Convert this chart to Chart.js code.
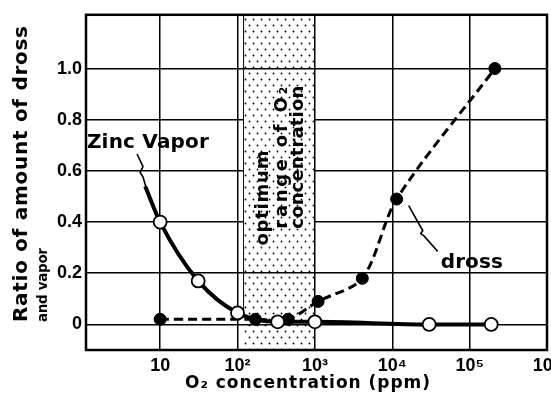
<!DOCTYPE html>
<html>
<head>
<meta charset="utf-8">
<script src="https://cdn.jsdelivr.net/npm/chart.js@4.4.1/dist/chart.umd.min.js"></script>
<style>
  html, body { margin: 0; padding: 0; background: #fff; overflow: hidden; }
  #wrap { position: relative; width: 590px; height: 404px; }
</style>
</head>
<body>
<div id="wrap"><canvas id="chart"></canvas></div>
<script>
// 軸刻度
const xTicks = [10, 1e2, 1e3, 1e4, 1e5, 1e6];
const xTickLabels = ['10', '10²', '10³', '10⁴', '10⁵', '10⁶'];
const yTicks = [0, 0.2, 0.4, 0.6, 0.8, 1.0];
const yTickLabels = ['0', '0.2', '0.4', '0.6', '0.8', '1.0'];

// Zinc vapor (open circles); the first point only starts the curve
const zincConc = [6.4, 10, 31, 100, 330, 1000, 30000, 190000];
const zincRatio = [0.54, 0.40, 0.17, 0.045, 0.01, 0.01, 0.0, 0.0];

// dross (filled circles)
const drossConc = [10, 170, 450, 1100, 4100, 11400, 212000];
const drossRatio = [0.02, 0.02, 0.02, 0.09, 0.18, 0.49, 1.0];

// optimum range of O2 concentration (ppm)
const optimumRange = [118, 1000];

const BOLD = 'bold ';
const SANS = '"DejaVu Sans", sans-serif';
const TICKFONT = '"Liberation Sans", Arial, sans-serif';

// dotted pattern for the optimum band
const dotCanvas = document.createElement('canvas');
dotCanvas.width = 8;
dotCanvas.height = 12;
const dctx = dotCanvas.getContext('2d');
dctx.fillStyle = '#000';
dctx.beginPath(); dctx.arc(1.5, 1.5, 0.9, 0, Math.PI * 2); dctx.fill();
dctx.beginPath(); dctx.arc(5.5, 7.5, 0.9, 0, Math.PI * 2); dctx.fill();

// set letter spacing so text fills the given width
function fitText(ctx, text, width) {
    ctx.letterSpacing = '0px';
    const w = ctx.measureText(text).width;
    const n = [...text].length;
    ctx.letterSpacing = (n > 1 ? (width - w) / (n - 1) : 0) + 'px';
}

function drawRotated(ctx, text, x, y, font, width) {
    ctx.save();
    ctx.font = font;
    fitText(ctx, text, width);
    ctx.translate(x, y);
    ctx.rotate(-Math.PI / 2);
    ctx.textAlign = 'left';
    ctx.textBaseline = 'alphabetic';
    ctx.fillText(text, 0, 0);
    ctx.restore();
}

function drawFlat(ctx, text, x, y, font, width) {
    ctx.save();
    ctx.font = font;
    fitText(ctx, text, width);
    ctx.textAlign = 'left';
    ctx.textBaseline = 'alphabetic';
    ctx.fillText(text, x, y);
    ctx.restore();
}

function leader(ctx, xs, ys, pts) {
    ctx.save();
    ctx.strokeStyle = '#000';
    ctx.lineWidth = 1.6;
    ctx.lineJoin = 'round';
    ctx.beginPath();
    pts.forEach((p, i) => {
        const px = xs.getPixelForValue(p[0]);
        const py = ys.getPixelForValue(p[1]);
        if (i === 0) ctx.moveTo(px, py); else ctx.lineTo(px, py);
    });
    ctx.stroke();
    ctx.restore();
}

const decorPlugin = {
    id: 'decor',
    beforeDraw(chart) {
        const ctx = chart.ctx;
        const a = chart.chartArea;
        const xs = chart.scales.x;
        const ys = chart.scales.y;
        const x0 = xs.getPixelForValue(optimumRange[0]);
        const x1 = xs.getPixelForValue(optimumRange[1]);
        ctx.save();
        ctx.fillStyle = ctx.createPattern(dotCanvas, 'repeat');
        ctx.fillRect(x0, a.top, x1 - x0, a.bottom - a.top);
        ctx.strokeStyle = '#000';
        ctx.lineWidth = 1;
        ctx.beginPath();
        ctx.moveTo(x0 + 0.5, a.top);
        ctx.lineTo(x0 + 0.5, ys.getPixelForValue(0.05));
        ctx.stroke();
        ctx.restore();
    },
    beforeDatasetsDraw(chart) {
        const ctx = chart.ctx;
        const xs = chart.scales.x;
        const ys = chart.scales.y;
        const x0 = xs.getPixelForValue(optimumRange[0]);
        const x1 = xs.getPixelForValue(optimumRange[1]) - 1;
        const yTop = ys.getPixelForValue(0.9);
        const yBot = ys.getPixelForValue(0.3);
        ctx.save();
        ctx.fillStyle = '#fff';
        ctx.fillRect(x0 + 1, yTop, x1 - x0 - 1, yBot - yTop);
        ctx.fillStyle = ctx.createPattern(dotCanvas, 'repeat');
        ctx.fillRect(x0 + 1, yTop, x1 - x0 - 1, yBot - yTop);
        ctx.restore();

        ctx.save();
        ctx.fillStyle = '#000';
        drawRotated(ctx, 'optimum', xs.getPixelForValue(250), ys.getPixelForValue(0.308), BOLD + '18px ' + SANS, 95);
        drawRotated(ctx, 'range of O₂', xs.getPixelForValue(442), ys.getPixelForValue(0.374), BOLD + '18px ' + SANS, 142);
        drawRotated(ctx, 'concentration', xs.getPixelForValue(711), ys.getPixelForValue(0.374), BOLD + '18px ' + SANS, 143);

        drawFlat(ctx, 'Zinc Vapor', xs.getPixelForValue(1.13), ys.getPixelForValue(0.689), BOLD + '20px ' + SANS, 122);
        drawFlat(ctx, 'dross', xs.getPixelForValue(42400), ys.getPixelForValue(0.222), BOLD + '20px ' + SANS, 62);
        ctx.restore();

        leader(ctx, xs, ys, [[5.03, 0.666], [6.0, 0.617], [5.5, 0.594], [6.0, 0.576], [6.5, 0.54]]);
        leader(ctx, xs, ys, [[16300, 0.464], [24800, 0.366], [23300, 0.355], [25500, 0.347], [38700, 0.285]]);
    },
    afterDraw(chart) {
        const ctx = chart.ctx;
        const a = chart.chartArea;
        ctx.save();
        ctx.strokeStyle = '#000';
        ctx.lineWidth = 2.5;
        ctx.strokeRect(a.left, a.top, a.right - a.left, a.bottom - a.top);
        ctx.fillStyle = '#000';
        // axis titles
        drawRotated(ctx, 'Ratio of amount of dross', 27, 322, BOLD + '20px ' + SANS, 296);
        drawRotated(ctx, 'and vapor', 47, 322, BOLD + '13.5px ' + SANS, 74);
        drawFlat(ctx, 'O₂ concentration (ppm)', 185, 388, BOLD + '17px ' + SANS, 245);
        ctx.restore();
    }
};

const ctx = document.getElementById('chart').getContext('2d');
new Chart(ctx, {
    type: 'line',
    data: {
        datasets: [
            {
                label: 'Zinc Vapor',
                data: zincConc.map((c, i) => ({ x: c, y: zincRatio[i] })),
                borderColor: '#000',
                borderWidth: 4,
                backgroundColor: '#fff',
                pointBackgroundColor: '#fff',
                pointBorderColor: '#000',
                pointBorderWidth: 1.8,
                pointRadius: c => (c.dataIndex === 0 ? 0 : 6.5),
                cubicInterpolationMode: 'monotone',
                order: 0
            },
            {
                label: 'dross',
                data: drossConc.map((c, i) => ({ x: c, y: drossRatio[i] })),
                borderColor: '#000',
                borderWidth: 3,
                borderDash: [9, 5],
                pointBackgroundColor: '#000',
                pointBorderColor: '#000',
                pointBorderWidth: 1,
                pointRadius: 6,
                tension: 0.3,
                order: 1
            }
        ]
    },
    options: {
        responsive: true,
        maintainAspectRatio: false,
        animation: false,
        layout: { padding: { left: 0, top: 13, right: 43, bottom: 0 } },
        plugins: {
            legend: { display: false },
            tooltip: { enabled: false }
        },
        scales: {
            x: {
                type: 'logarithmic',
                min: 1.1,
                max: 1e6,
                afterBuildTicks: scale => { scale.ticks = xTicks.map(v => ({ value: v })); },
                afterFit: scale => { scale.height = 54; },
                border: { display: false },
                grid: { color: '#000', lineWidth: 1.5, drawTicks: false, tickLength: 0 },
                ticks: {
                    autoSkip: false,
                    maxRotation: 0,
                    padding: 5,
                    color: '#000',
                    font: { family: TICKFONT, size: 18, weight: 'bold' },
                    callback: (v, i) => xTickLabels[i]
                }
            },
            y: {
                type: 'linear',
                min: -0.1,
                max: 1.21,
                afterBuildTicks: scale => { scale.ticks = yTicks.map(v => ({ value: v })); },
                afterFit: scale => { scale.width = 86; },
                border: { display: false },
                grid: { color: '#000', lineWidth: 1.5, drawTicks: false, tickLength: 0 },
                ticks: {
                    padding: 4,
                    color: '#000',
                    font: { family: TICKFONT, size: 18, weight: 'bold' },
                    callback: (v, i) => yTickLabels[i]
                }
            }
        }
    },
    plugins: [decorPlugin]
});
</script>
</body>
</html>
